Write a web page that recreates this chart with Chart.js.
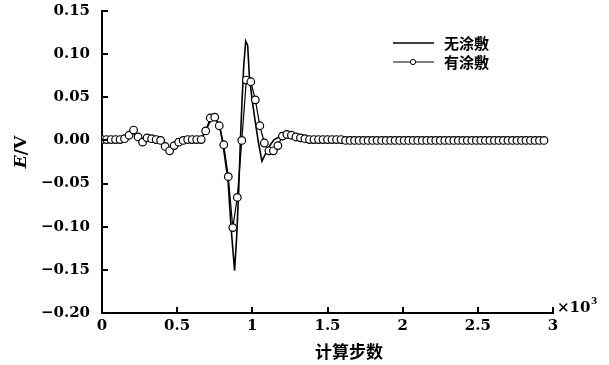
<!DOCTYPE html>
<html>
<head>
<meta charset="utf-8">
<script src="https://cdn.jsdelivr.net/npm/chart.js@4/dist/chart.umd.min.js"></script>
<style>
  html, body { margin: 0; padding: 0; background: #fff; }
  #wrap { width: 609px; height: 365px; }
</style>
</head>
<body>
<div id="wrap"><canvas id="chart" width="609" height="365"></canvas></div>
<script>
// Шаги расчёта (×10³) и ЭДС для двух вариантов
const coatedSteps = [
  0, 0.03, 0.06, 0.09, 0.12, 0.15, 0.18, 0.21, 0.24, 0.27,
  0.30, 0.33, 0.36, 0.39, 0.42, 0.45, 0.48, 0.51, 0.54, 0.57,
  0.60, 0.63, 0.66, 0.69, 0.72, 0.75, 0.78, 0.81, 0.84, 0.87,
  0.90, 0.93, 0.96, 0.99, 1.02, 1.05, 1.08, 1.11, 1.14, 1.17,
  1.20, 1.23, 1.26, 1.29, 1.32, 1.35, 1.38, 1.41, 1.44, 1.47,
  1.50, 1.53, 1.56, 1.59, 1.62, 1.65, 1.68, 1.71, 1.74, 1.77,
  1.80, 1.83, 1.86, 1.89, 1.92, 1.95, 1.98, 2.01, 2.04, 2.07,
  2.10, 2.13, 2.16, 2.19, 2.22, 2.25, 2.28, 2.31, 2.34, 2.37,
  2.40, 2.43, 2.46, 2.49, 2.52, 2.55, 2.58, 2.61, 2.64, 2.67,
  2.70, 2.73, 2.76, 2.79, 2.82, 2.85, 2.88, 2.91, 2.94
];
const coatedE = [
  0.001, 0.001, 0.001, 0.001, 0.001, 0.002, 0.006, 0.012, 0.004, -0.002,
  0.003, 0.002, 0.001, 0.000, -0.007, -0.012, -0.006, -0.002, 0.000, 0.001,
  0.001, 0.001, 0.001, 0.011, 0.026, 0.027, 0.017, -0.005, -0.042, -0.101,
  -0.066, 0.000, 0.070, 0.068, 0.047, 0.017, -0.003, -0.012, -0.012, -0.006,
  0.005, 0.007, 0.006, 0.004, 0.003, 0.002, 0.001, 0.001, 0.001, 0.001,
  0.001, 0.001, 0.001, 0.001, 0.000, 0.000, 0.000, 0.000, 0.000, 0.000,
  0.000, 0.000, 0.000, 0.000, 0.000, 0.000, 0.000, 0.000, 0.000, 0.000,
  0.000, 0.000, 0.000, 0.000, 0.000, 0.000, 0.000, 0.000, 0.000, 0.000,
  0.000, 0.000, 0.000, 0.000, 0.000, 0.000, 0.000, 0.000, 0.000, 0.000,
  0.000, 0.000, 0.000, 0.000, 0.000, 0.000, 0.000, 0.000, 0.000
];
const bareSteps = [
  0, 0.15, 0.20, 0.25, 0.40, 0.45, 0.50, 0.60, 0.66, 0.70,
  0.73, 0.75, 0.783, 0.805, 0.838, 0.86, 0.882, 0.897, 0.91, 0.921,
  0.932, 0.943, 0.956, 0.969, 0.98, 0.998, 1.02, 1.041, 1.064, 1.086,
  1.112, 1.145, 1.178, 1.25, 1.40, 2.95
];
const bareE = [
  0.001, 0.001, 0.010, 0.002, 0.000, -0.010, -0.002, 0.001, 0.002, 0.015,
  0.026, 0.027, 0.017, -0.005, -0.046, -0.104, -0.151, -0.108, -0.054, 0.001,
  0.048, 0.087, 0.115, 0.110, 0.075, 0.048, 0.021, -0.003, -0.024, -0.016,
  -0.007, 0.001, 0.004, 0.003, 0.001, 0.001
];
const xTicks = [0, 0.5, 1, 1.5, 2, 2.5, 3];
const yTicks = [0.15, 0.10, 0.05, 0.00, -0.05, -0.10, -0.15, -0.20];
const seriesNames = ["无涂敷", "有涂敷"];

const tickFont = { family: "'DejaVu Serif'", size: 15, weight: "bold" };
const cjkFont = "'Noto Sans CJK SC'";

const toPoints = (xs, ys) => xs.map((v, i) => ({ x: v, y: ys[i] }));

// Внутренние засечки, подписи осей, легенда
const decor = {
  id: "decor",
  afterDraw(chart) {
    const { ctx, chartArea: a } = chart;
    const x = chart.scales.x;
    const y = chart.scales.y;
    ctx.save();
    ctx.strokeStyle = "#000";
    ctx.lineWidth = 2;
    ctx.beginPath();
    yTicks.forEach((v) => {
      const py = Math.round(y.getPixelForValue(v));
      ctx.moveTo(a.left, py);
      ctx.lineTo(a.left + 6, py);
    });
    xTicks.forEach((v) => {
      if (v === 0) return;
      const px = Math.round(x.getPixelForValue(v));
      ctx.moveTo(px, a.bottom);
      ctx.lineTo(px, a.bottom - 6);
    });
    ctx.stroke();

    ctx.fillStyle = "#000";
    // ×10³
    ctx.textBaseline = "middle";
    ctx.textAlign = "left";
    ctx.font = "bold 15px 'DejaVu Serif'";
    ctx.fillText("×10", a.right + 4, a.bottom - 5);
    ctx.font = "bold 9px 'DejaVu Serif'";
    ctx.fillText("3", a.right + 38, a.bottom - 11);

    // x title
    ctx.textAlign = "center";
    ctx.font = "bold 17px " + cjkFont;
    ctx.fillText("计算步数", 349, 352);

    // y title E/V
    ctx.save();
    ctx.translate(22, 152);
    ctx.rotate(-Math.PI / 2);
    ctx.textAlign = "left";
    ctx.font = "italic bold 17px 'DejaVu Serif'";
    const wE = ctx.measureText("E").width;
    ctx.font = "bold 17px 'DejaVu Serif'";
    const wV = ctx.measureText("/V").width;
    const start = -(wE + wV) / 2;
    ctx.font = "italic bold 17px 'DejaVu Serif'";
    ctx.fillText("E", start, 0);
    ctx.font = "bold 17px 'DejaVu Serif'";
    ctx.fillText("/V", start + wE, 0);
    ctx.restore();

    // legend
    ctx.lineWidth = 1.4;
    ctx.beginPath();
    ctx.moveTo(393, 43);
    ctx.lineTo(434, 43);
    ctx.stroke();
    ctx.lineWidth = 1;
    ctx.beginPath();
    ctx.moveTo(393, 62);
    ctx.lineTo(434, 62);
    ctx.stroke();
    ctx.beginPath();
    ctx.fillStyle = "#fff";
    ctx.arc(413, 62, 2.6, 0, Math.PI * 2);
    ctx.fill();
    ctx.stroke();
    ctx.fillStyle = "#000";
    ctx.textAlign = "left";
    ctx.font = "bold 15px " + cjkFont;
    ctx.fillText(seriesNames[0], 444, 43);
    ctx.fillText(seriesNames[1], 444, 62);
    ctx.restore();
  },
};

const ctx = document.getElementById("chart").getContext("2d");
const chart = new Chart(ctx, {
  type: "line",
  data: {
    datasets: [
      {
        label: seriesNames[0],
        data: toPoints(bareSteps, bareE),
        borderColor: "#000",
        borderWidth: 1.6,
        pointRadius: 0,
        tension: 0,
        order: 2,
      },
      {
        label: seriesNames[1],
        data: toPoints(coatedSteps, coatedE),
        borderColor: "#000",
        borderWidth: 1.2,
        pointRadius: 3.8,
        pointBorderWidth: 1.2,
        pointBackgroundColor: "#fff",
        pointBorderColor: "#000",
        tension: 0,
        order: 1,
      },
    ],
  },
  options: {
    responsive: false,
    animation: false,
    devicePixelRatio: 1,
    layout: { padding: { left: 0, right: 56, top: 11, bottom: 0 } },
    plugins: { legend: { display: false }, tooltip: { enabled: false } },
    scales: {
      x: {
        type: "linear",
        min: 0,
        max: 3,
        afterBuildTicks: (s) => {
          s.ticks = xTicks.map((v) => ({ value: v }));
        },
        afterFit: (s) => {
          s.height = 52;
          s.paddingLeft = 0;
          s.paddingRight = 0;
        },
        grid: { display: false, drawTicks: false },
        border: { display: true, color: "#000", width: 2 },
        ticks: {
          color: "#000",
          font: tickFont,
          padding: 4,
          maxRotation: 0,
          autoSkip: false,
          callback: (v) => String(v),
        },
      },
      y: {
        type: "linear",
        min: -0.2,
        max: 0.15,
        afterBuildTicks: (s) => {
          s.ticks = yTicks.map((v) => ({ value: v }));
        },
        afterFit: (s) => {
          s.width = 102;
          s.paddingTop = 0;
          s.paddingBottom = 0;
        },
        grid: { display: false, drawTicks: false },
        border: { display: true, color: "#000", width: 2 },
        ticks: {
          color: "#000",
          font: tickFont,
          padding: 12,
          autoSkip: false,
          callback: (v) => v.toFixed(2).replace("-", "−"),
        },
      },
    },
  },
  plugins: [decor],
});
</script>
</body>
</html>
